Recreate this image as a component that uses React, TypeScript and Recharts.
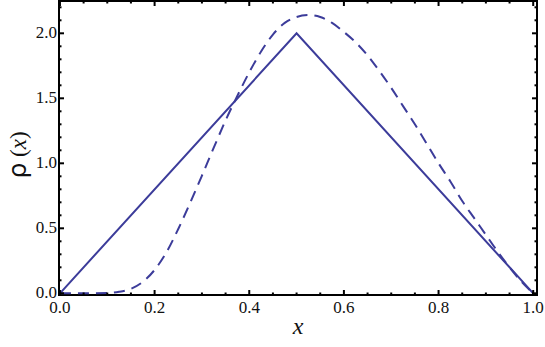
import React from 'react'
import { LineChart, Line, XAxis, YAxis, ReferenceArea } from 'recharts'

/* ── datos ── */
const triX = [0, 0.5, 1]
const triY = [0, 2, 0]

const curveX = [
  0, 0.05, 0.1, 0.125, 0.15, 0.175, 0.2, 0.225, 0.25, 0.275, 0.3, 0.325, 0.35,
  0.375, 0.4, 0.425, 0.45, 0.475, 0.5, 0.525, 0.55, 0.575, 0.6, 0.625, 0.65,
  0.675, 0.7, 0.725, 0.75, 0.775, 0.8, 0.825, 0.85, 0.875, 0.9, 0.925, 0.95,
  0.975, 1,
]
const curveY = [
  0, 0, 0.003, 0.012, 0.035, 0.088, 0.18, 0.315, 0.495, 0.695, 0.905, 1.12, 1.33,
  1.52, 1.7, 1.86, 1.99, 2.08, 2.125, 2.14, 2.125, 2.08, 2.01, 1.93, 1.83,
  1.71, 1.58, 1.44, 1.3, 1.15, 1.0, 0.86, 0.71, 0.58, 0.45, 0.32, 0.2,
  0.09, 0,
]

const xMajor = [0, 0.2, 0.4, 0.6, 0.8, 1]
const xMinor = [0.05, 0.1, 0.15, 0.25, 0.3, 0.35, 0.45, 0.5, 0.55, 0.65, 0.7, 0.75, 0.85, 0.9, 0.95]
const yMajor = [0, 0.5, 1, 1.5, 2]
const yMinor = [0.1, 0.2, 0.3, 0.4, 0.6, 0.7, 0.8, 0.9, 1.1, 1.2, 1.3, 1.4, 1.6, 1.7, 1.8, 1.9, 2.1, 2.2]

const triangle = triX.map((x, i) => ({ x, y: triY[i] }))
const curve = curveX.map((x, i) => ({ x, y: curveY[i] }))

/* ── layout ── */
const W = 545
const H = 347
const M = { top: 1, right: 8, bottom: 0, left: 0 }
const Y_AXIS_W = 59
const X_AXIS_H = 52
const PLOT_W = W - M.left - M.right - Y_AXIS_W
const PLOT_H = H - M.top - M.bottom - X_AXIS_H

const X_DOMAIN: [number, number] = [-0.002, 1.008]
const Y_DOMAIN: [number, number] = [-0.013, 2.2485]

const BLUE = '#3c3c9a'
const SERIF = 'Liberation Serif, Times New Roman, DejaVu Serif, serif'
const SANS = 'DejaVu Sans'

const isIn = (arr: number[], v: number) => arr.some((a) => Math.abs(a - v) < 1e-9)

function XTick(props: any) {
  const { x, y, payload } = props
  const major = isIn(xMajor, payload.value)
  const len = major ? 5 : 2.5
  return (
    <g>
      <line x1={x} x2={x} y1={y} y2={y - len} stroke="#000" strokeWidth={2} />
      <line x1={x} x2={x} y1={y - PLOT_H} y2={y - PLOT_H + len} stroke="#000" strokeWidth={2} />
      {major && (
        <text x={x} y={y + 18} textAnchor="middle" fontFamily={SERIF} fontSize={17} fill="#111">
          {payload.value.toFixed(1)}
        </text>
      )}
    </g>
  )
}

function YTick(props: any) {
  const { x, y, payload } = props
  const major = isIn(yMajor, payload.value)
  const len = major ? 5 : 2.5
  return (
    <g>
      <line x1={x} x2={x + len} y1={y} y2={y} stroke="#000" strokeWidth={2} />
      <line x1={x + PLOT_W} x2={x + PLOT_W - len} y1={y} y2={y} stroke="#000" strokeWidth={2} />
      {major && (
        <text x={x - 2} y={y + 5} textAnchor="end" fontFamily={SERIF} fontSize={17} fill="#111">
          {payload.value.toFixed(1)}
        </text>
      )}
    </g>
  )
}

function XLabel() {
  return (
    <text x={298} y={334} textAnchor="middle" fontFamily={SERIF} fontStyle="italic" fontSize={24} fill="#111">
      x
    </text>
  )
}

function YLabel() {
  return (
    <text
      x={0}
      y={0}
      transform="translate(26 155) rotate(-90)"
      textAnchor="middle"
      fontSize={23}
      fill="#111"
      fontFamily={SERIF}
    >
      <tspan fontFamily={SANS} fontSize={25}>ρ</tspan>
      <tspan> (</tspan>
      <tspan fontStyle="italic">x</tspan>
      <tspan>)</tspan>
    </text>
  )
}

export default function App() {
  const xTicks = [...xMajor, ...xMinor].sort((a, b) => a - b)
  const yTicks = [...yMajor, ...yMinor].sort((a, b) => a - b)
  return (
    <div style={{ position: 'absolute', left: 0, top: 0, background: '#fff' }}>
      <LineChart width={W} height={H} margin={M}>
        <XAxis
          dataKey="x"
          type="number"
          domain={X_DOMAIN}
          allowDataOverflow
          ticks={xTicks}
          interval={0}
          tick={<XTick />}
          tickLine={false}
          axisLine={false}
          tickSize={0}
          tickMargin={0}
          height={X_AXIS_H}
          label={<XLabel />}
        />
        <YAxis
          dataKey="y"
          type="number"
          domain={Y_DOMAIN}
          allowDataOverflow
          ticks={yTicks}
          interval={0}
          tick={<YTick />}
          tickLine={false}
          axisLine={false}
          tickSize={0}
          tickMargin={0}
          width={Y_AXIS_W}
          label={<YLabel />}
        />
        <ReferenceArea
          x1={X_DOMAIN[0]}
          x2={X_DOMAIN[1]}
          y1={Y_DOMAIN[0]}
          y2={Y_DOMAIN[1]}
          fill="none"
          stroke="#000"
          strokeWidth={2}
          ifOverflow="visible"
        />
        <Line
          data={triangle}
          dataKey="y"
          type="linear"
          stroke={BLUE}
          strokeWidth={2}
          dot={false}
          activeDot={false}
          isAnimationActive={false}
        />
        <Line
          data={curve}
          dataKey="y"
          type="monotone"
          stroke={BLUE}
          strokeWidth={2}
          strokeDasharray="11 7"
          dot={false}
          activeDot={false}
          isAnimationActive={false}
        />
      </LineChart>
    </div>
  )
}
